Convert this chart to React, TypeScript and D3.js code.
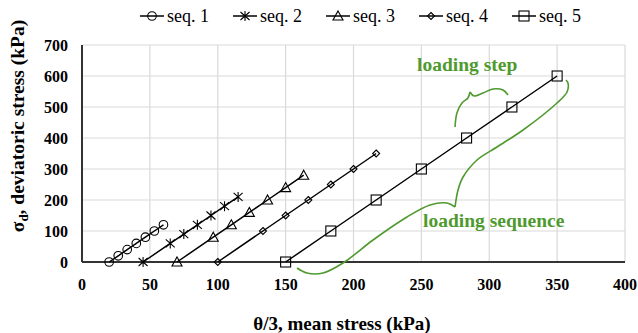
import * as d3 from "d3";

// values (mean stress, deviatoric stress)
const seq1X = [20, 26.7, 33.3, 40, 46.7, 53.3, 60];
const seq1Y = [0, 20, 40, 60, 80, 100, 120];
const seq2X = [45, 65, 75, 85, 95, 105, 115];
const seq2Y = [0, 60, 90, 120, 150, 180, 210];
const seq3X = [70, 96.7, 110, 123.3, 136.7, 150, 163.3];
const seq3Y = [0, 80, 120, 160, 200, 240, 280];
const seq4X = [100, 133.3, 150, 166.7, 183.3, 200, 216.7];
const seq4Y = [0, 100, 150, 200, 250, 300, 350];
const seq5X = [150, 183.3, 216.7, 250, 283.3, 316.7, 350];
const seq5Y = [0, 100, 200, 300, 400, 500, 600];

const seriesNames = ["seq. 1", "seq. 2", "seq. 3", "seq. 4", "seq. 5"];
const markerTypes = ["circle", "star", "triangle", "diamond", "square"];

const xTicks = [0, 50, 100, 150, 200, 250, 300, 350, 400];
const yTicks = [0, 100, 200, 300, 400, 500, 600, 700];

// annotation braces, in data units
const stepBraceA = [[274.8, 435.5], [276.2, 480.6], [279.9, 512.9], [284.3, 529.0], [285.8, 548.4]];
const stepBraceB = [[285.8, 548.4], [288.8, 535.5], [295.4, 545.2], [302.8, 558.1], [310.1, 554.8], [313.8, 538.7]];
const seqBraceA = [[158.4, -19.4], [165.7, -35.5], [177.5, -35.5], [192.3, -3.2], [214.4, 71.0], [239.4, 145.2], [256.4, 183.9], [268.9, 190.3], [274.8, 177.4]];
const seqBraceB = [[274.8, 177.4], [277.0, 232.3], [280.7, 274.2], [291.0, 329.0], [305.7, 371.0], [324.9, 425.8], [349.9, 512.9], [357.3, 548.4], [358.0, 577.4], [356.5, 587.1]];
const labels = [
  { text: "loading step", x: 246.8, y: 616 },
  { text: "loading sequence", x: 251.2, y: 113 },
];

const FONT = "Liberation Serif";
const GREEN = "#4f9a2f";

const x = d3.scaleLinear().domain([0, 400]).range([82, 625]);
const y = d3.scaleLinear().domain([0, 700]).range([262, 45]);

function Marker({ type, cx, cy }) {
  const p = { fill: "none", stroke: "#000", strokeWidth: 1.1 };
  if (type === "circle") return <circle cx={cx} cy={cy} r={4.3} {...p} />;
  if (type === "square") return <rect x={cx - 5} y={cy - 5} width={10} height={10} {...p} />;
  if (type === "triangle") return <path d={`M${cx},${cy - 5}L${cx + 5},${cy + 4}L${cx - 5},${cy + 4}Z`} {...p} />;
  if (type === "diamond") return <path d={`M${cx},${cy - 3.5}L${cx + 3.5},${cy}L${cx},${cy + 3.5}L${cx - 3.5},${cy}Z`} {...p} />;
  return (
    <path d={`M${cx},${cy - 5}L${cx},${cy + 5}M${cx - 4.5},${cy - 4}L${cx + 4.5},${cy + 4}M${cx - 4.5},${cy + 4}L${cx + 4.5},${cy - 4}`} {...p} />
  );
}

export default function App() {
  const xs = [seq1X, seq2X, seq3X, seq4X, seq5X];
  const ys = [seq1Y, seq2Y, seq3Y, seq4Y, seq5Y];
  const line = d3.line().x((d) => x(d[0])).y((d) => y(d[1]));
  const curve = d3.line().x((d) => x(d[0])).y((d) => y(d[1])).curve(d3.curveCatmullRom);

  return (
    <div style={{ position: "absolute", left: 0, top: 0 }}>
      <svg width={638} height={333} fontFamily={FONT} style={{ display: "block", background: "#fff" }}>
        {/* grid */}
        {xTicks.map((t) => (
          <line key={"gx" + t} x1={x(t)} x2={x(t)} y1={y(0)} y2={y(700)} stroke="#d9d9d9" strokeWidth={1.2} />
        ))}
        {yTicks.map((t) => (
          <line key={"gy" + t} x1={x(0)} x2={x(400)} y1={y(t)} y2={y(t)} stroke="#d9d9d9" strokeWidth={1.2} />
        ))}
        {/* axes */}
        <line x1={x(0)} x2={x(0)} y1={y(0)} y2={y(700)} stroke="#333" strokeWidth={2} />
        <line x1={x(0)} x2={x(400)} y1={y(0)} y2={y(0)} stroke="#333" strokeWidth={2} />
        {xTicks.map((t) => (
          <text key={"tx" + t} x={x(t)} y={290} textAnchor="middle" fontWeight="bold" fontSize={16}>{t}</text>
        ))}
        {yTicks.map((t) => (
          <text key={"ty" + t} x={68} y={y(t)} dy="0.35em" textAnchor="end" fontWeight="bold" fontSize={16}>{t}</text>
        ))}
        <text x={342} y={330} textAnchor="middle" fontWeight="bold" fontSize={19}>θ/3, mean stress (kPa)</text>
        <text transform="translate(24,126) rotate(-90)" textAnchor="middle" fontWeight="bold" fontSize={19.5}>
          <tspan>σ</tspan>
          <tspan fontSize={13} dy={4}>d</tspan>
          <tspan dy={-4}>, deviatoric stress (kPa)</tspan>
        </text>
        {/* series */}
        {xs.map((sx, i) => {
          const pts = sx.map((v, j) => [v, ys[i][j]]);
          return (
            <g key={"s" + i}>
              <path d={line(pts)} fill="none" stroke="#000" strokeWidth={1.5} />
              {pts.map((p, j) => (
                <Marker key={j} type={markerTypes[i]} cx={x(p[0])} cy={y(p[1])} />
              ))}
            </g>
          );
        })}
        {/* annotations */}
        {[stepBraceA, stepBraceB, seqBraceA, seqBraceB].map((b, i) => (
          <path key={"b" + i} d={curve(b)} fill="none" stroke={GREEN} strokeWidth={1.6} />
        ))}
        {labels.map((l) => (
          <text key={l.text} x={x(l.x)} y={y(l.y)} fontWeight="bold" fontSize={19.5} fill={GREEN}>{l.text}</text>
        ))}
        {/* legend */}
        {seriesNames.map((name, i) => {
          const lx = 140 + i * 93;
          return (
            <g key={name}>
              <line x1={lx} x2={lx + 24} y1={16} y2={16} stroke="#000" strokeWidth={1.5} />
              <Marker type={markerTypes[i]} cx={lx + 12} cy={16} />
              <text x={lx + 27} y={16} dy="0.35em" fontSize={18}>{name}</text>
            </g>
          );
        })}
      </svg>
    </div>
  );
}
